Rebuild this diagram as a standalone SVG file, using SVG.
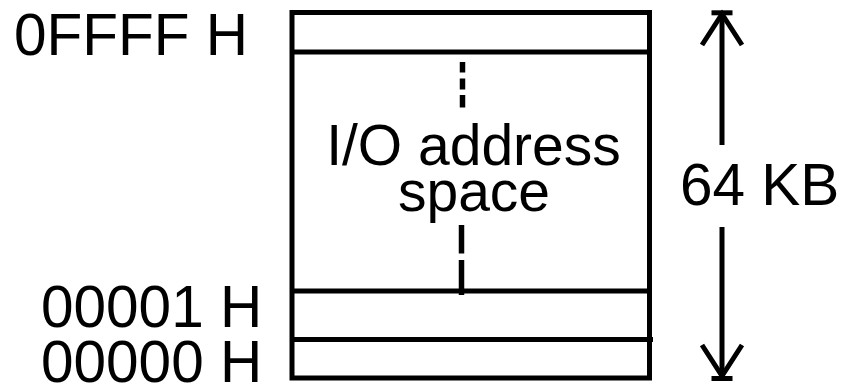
<svg xmlns="http://www.w3.org/2000/svg" width="850" height="384" viewBox="0 0 850 384">
  <style>
    .ln { stroke: #000; stroke-width: 5; fill: none; }
    .dash { stroke: #000; stroke-width: 5.5; fill: none; }
    .lbl { font-family: "Liberation Sans", Arial, sans-serif; font-size: 57px; fill: #000; }
    .big { font-size: 58.5px; }
  </style>
  <rect width="850" height="384" fill="#fff"/>

  <!-- memory map block -->
  <g id="io-space">
    <rect class="ln" x="292" y="12.5" width="357.5" height="365.5"/>
    <line class="ln" x1="292" y1="52" x2="647" y2="52"/>
    <line class="ln" x1="292" y1="291" x2="649.5" y2="291"/>
    <line class="ln" x1="292" y1="339.5" x2="653" y2="339.5"/>
    <!-- dashed continuation marks -->
    <line class="dash" x1="462.5" y1="62" x2="462.5" y2="72.5"/>
    <line class="dash" x1="462.5" y1="78.5" x2="462.5" y2="89.5"/>
    <line class="dash" x1="462.5" y1="95" x2="462.5" y2="107.5"/>
    <line class="dash" x1="461.5" y1="225" x2="461.5" y2="253.5"/>
    <line class="dash" x1="461.5" y1="260" x2="461.5" y2="295"/>
    <text class="lbl" x="473.5" y="165" text-anchor="middle">I/O address</text>
    <text class="lbl" x="474" y="211" text-anchor="middle">space</text>
  </g>

  <!-- address labels -->
  <g id="addr-top">
    <text class="lbl big" x="14" y="55">0FFFF H</text>
  </g>
  <g id="addr-one">
    <text class="lbl big" x="41" y="326.5">00001 H</text>
  </g>
  <g id="addr-zero">
    <text class="lbl big" x="41" y="381.5">00000 H</text>
  </g>

  <!-- size dimension -->
  <g id="size-label">
    <text class="lbl big" x="680" y="205">64 KB</text>
  </g>
  <g id="connectors">
    <line class="ln" x1="722" y1="13" x2="722" y2="145"/>
    <line class="ln" x1="711.5" y1="12.8" x2="732.5" y2="12.8"/>
    <polyline class="ln" points="702,45 722,14 742,45"/>
    <line class="ln" x1="722" y1="227" x2="722" y2="377"/>
    <line class="ln" x1="711.5" y1="378.5" x2="732.5" y2="378.5"/>
    <polyline class="ln" points="702,345 722,376 742,345"/>
  </g>
</svg>
